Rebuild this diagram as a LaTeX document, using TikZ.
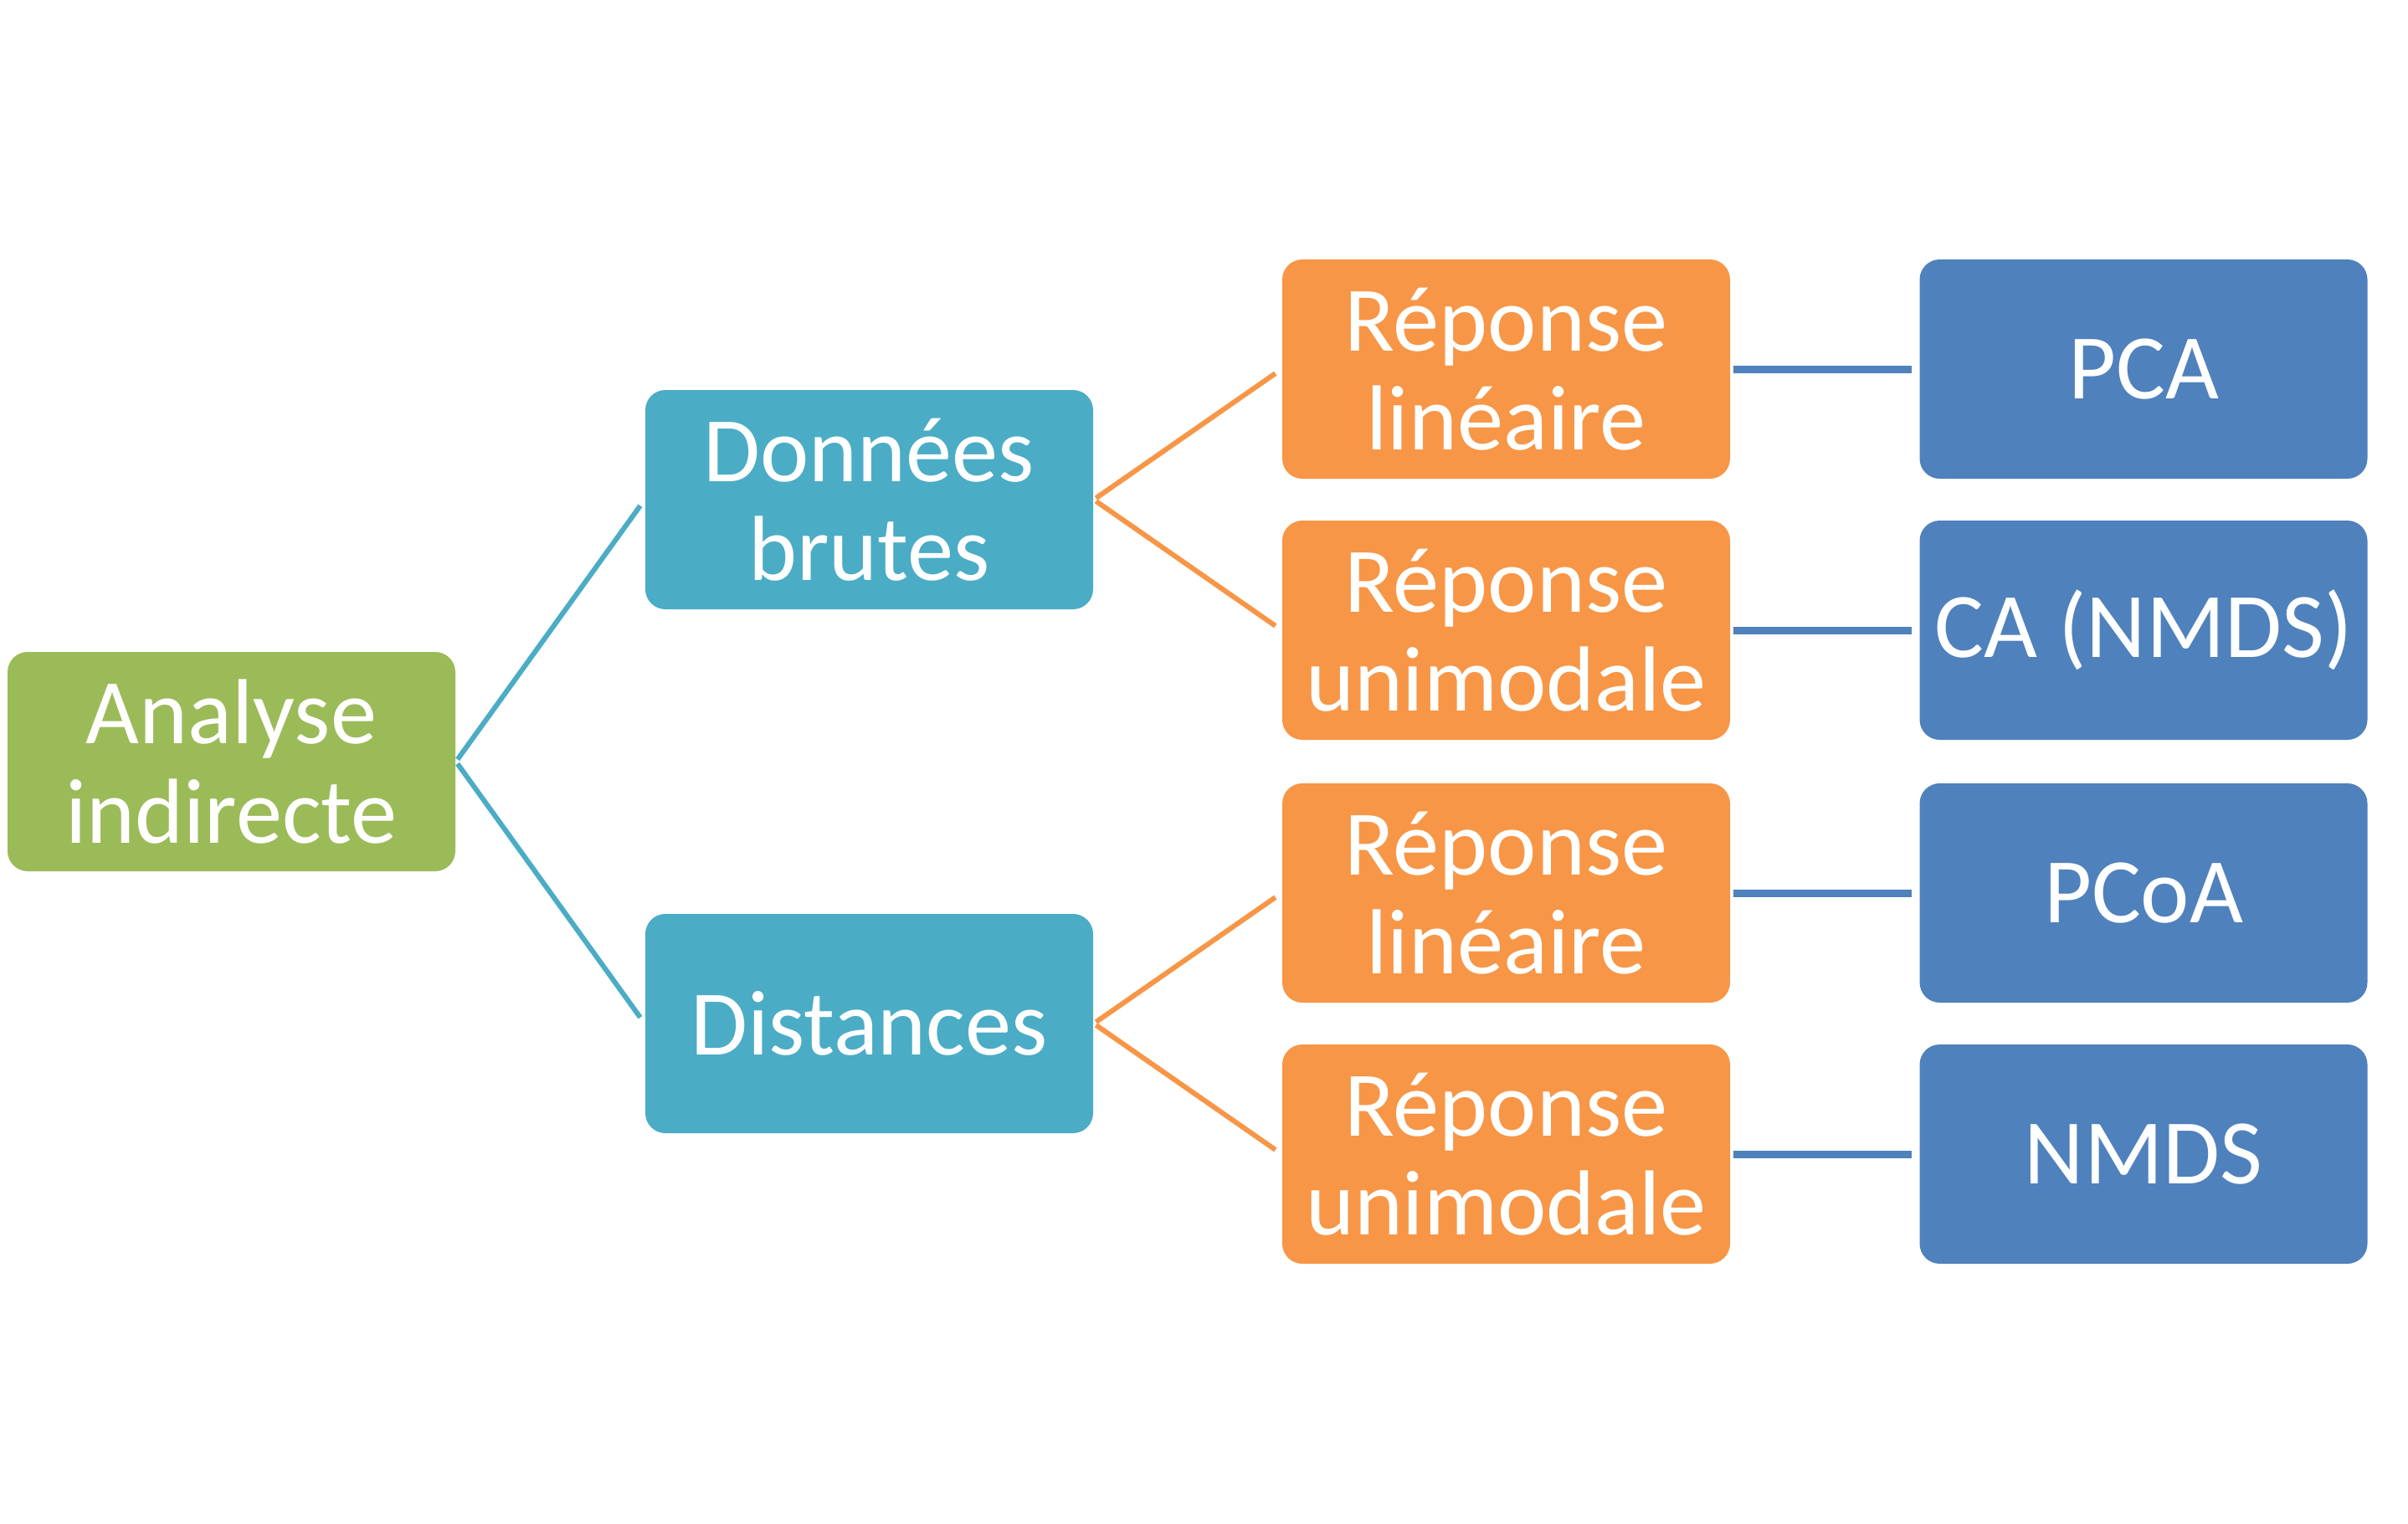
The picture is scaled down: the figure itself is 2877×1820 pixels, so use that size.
\documentclass[tikz,border=0pt]{standalone}
\usepackage{fontspec}
\setmainfont{Carlito}
\usepackage{tikz}
\definecolor{vert}{RGB}{155, 187, 89}
\definecolor{turquoise}{RGB}{75, 172, 198}
\definecolor{orangebox}{RGB}{247, 150, 70}
\definecolor{bleu}{RGB}{79, 129, 189}

\begin{document}
\begin{tikzpicture}[x=0.25pt, y=-0.25pt,
    box/.style={rounded corners=6pt, minimum width=133.75pt, minimum height=65.5pt,
                inner sep=0pt, align=center, text=white,
                font=\fontsize{27.6}{29.6}\selectfont},
    link/.style={line width=1.5pt, shorten <=0.8pt, shorten >=2.25pt}]
  \useasboundingbox (0, 0) rectangle (2877, 1820);

  \node[box, fill=vert] (analyse) at (276.5, 910) {Analyse\\indirecte};

  \node[box, fill=turquoise] (donnees) at (1038.5, 597) {Données\\brutes};
  \node[box, fill=turquoise] (distances) at (1038.5, 1223) {Distances};

  \node[box, fill=orangebox] (lin1) at (1799.5, 441) {Réponse\\linéaire};
  \node[box, fill=orangebox] (uni1) at (1799.5, 753) {Réponse\\unimodale};
  \node[box, fill=orangebox] (lin2) at (1799.5, 1067) {Réponse\\linéaire};
  \node[box, fill=orangebox] (uni2) at (1799.5, 1379) {Réponse\\unimodale};

  \node[box, fill=bleu] (pca) at (2561, 441) {PCA};
  \node[box, fill=bleu] (ca) at (2561, 753) {CA (NMDS)};
  \node[box, fill=bleu] (pcoa) at (2561, 1067) {PCoA};
  \node[box, fill=bleu] (nmds) at (2561, 1379) {NMDS};

  \draw[link, color=turquoise] (analyse.east) -- (donnees.west);
  \draw[link, color=turquoise] (analyse.east) -- (distances.west);

  \draw[link, color=orangebox] (donnees.east) -- (lin1.west);
  \draw[link, color=orangebox] (donnees.east) -- (uni1.west);
  \draw[link, color=orangebox] (distances.east) -- (lin2.west);
  \draw[link, color=orangebox] (distances.east) -- (uni2.west);

  \draw[link, line width=2.25pt, color=bleu] (lin1.east) -- (pca.west);
  \draw[link, line width=2.25pt, color=bleu] (uni1.east) -- (ca.west);
  \draw[link, line width=2.25pt, color=bleu] (lin2.east) -- (pcoa.west);
  \draw[link, line width=2.25pt, color=bleu] (uni2.east) -- (nmds.west);
\end{tikzpicture}
\end{document}
